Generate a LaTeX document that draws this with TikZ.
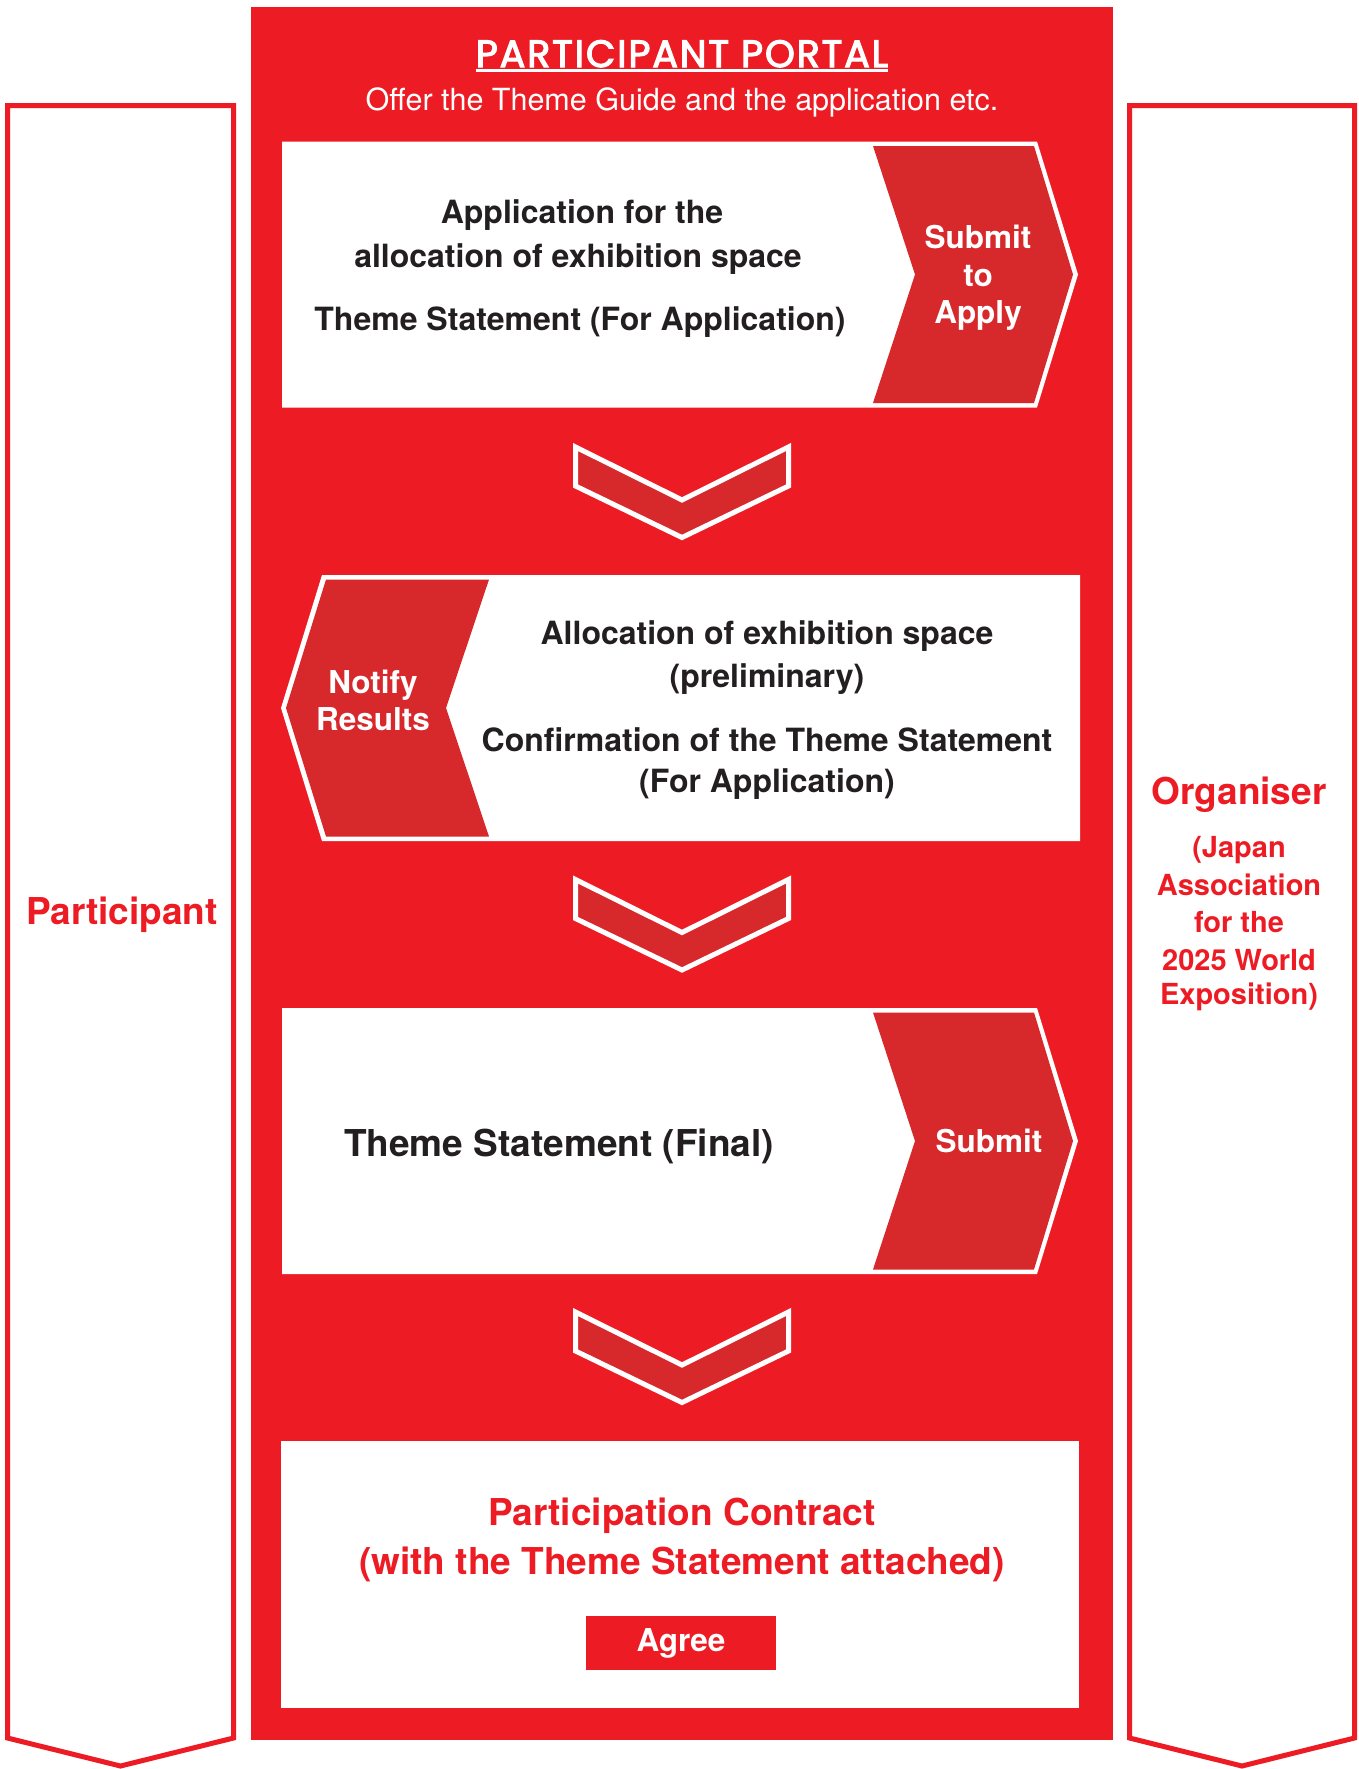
\documentclass[tikz,border=0pt]{standalone}
\usepackage{fontspec}
\setmainfont{TeX Gyre Heros}
\newfontfamily\titleFont[FakeBold=3, LetterSpace=5]{Poppins}
\usepackage{tikz}
\usetikzlibrary{positioning}
\tikzstyle{board} = [x = 1pt, y = -1pt]
\definecolor{portalRed}{HTML}{ED1C24}
\definecolor{chevronRed}{HTML}{D7282B}
\definecolor{bodyText}{HTML}{231F20}
\tikzstyle{bannerStyle} = [draw=portalRed, fill=white, line width=5pt]
\tikzstyle{arrowStyle} = [fill=chevronRed, draw=white, line width=5pt, line join=miter]
\tikzstyle{lineText} = [anchor=base, inner sep=0pt]
\tikzstyle{boxText} = [lineText, text=bodyText, font=\bfseries\fontsize{32}{37}\selectfont]
\tikzstyle{tagText} = [lineText, text=white, font=\bfseries\fontsize{31.5}{37}\selectfont]
\tikzstyle{sideText} = [lineText, text=portalRed, font=\bfseries\fontsize{29}{36}\selectfont]
\tikzstyle{bigText} = [lineText, font=\bfseries\fontsize{37}{44}\selectfont]
\newcommand{\rightStep}[1]{
  \fill [white] (282,#1) -- (1037,#1) -- (1078,#1+133) -- (1037,#1+266) -- (282,#1+266) -- cycle;
  \fill [chevronRed] (873,#1+4.5) -- (1034,#1+4.5) -- (1073,#1+133) -- (1034,#1+261.5) -- (873,#1+261.5) -- (915,#1+133) -- cycle;
}
\newcommand{\leftStep}[1]{
  \fill [white] (322,#1) -- (1080,#1) -- (1080,#1+266) -- (322,#1+266) -- (281,#1+133) -- cycle;
  \fill [chevronRed] (326,#1+4.5) -- (489,#1+4.5) -- (446,#1+133) -- (489,#1+261.5) -- (326,#1+261.5) -- (286,#1+133) -- cycle;
}
\newcommand{\downChevron}[1]{
  \filldraw [arrowStyle] (575.5,#1+4) -- (682,#1+57) -- (788.5,#1+4) -- (788.5,#1+43) -- (682,#1+94.5) -- (575.5,#1+43) -- cycle;
}

\begin{document}
\begin{tikzpicture}[board]
\useasboundingbox (0,0) rectangle (1359,1769);
% side banners
\filldraw [bannerStyle] (7.5,105.5) -- (233.5,105.5) -- (233.5,1738) -- (120.5,1766) -- (7.5,1738) -- cycle;
\filldraw [bannerStyle] (1129.5,105.5) -- (1354.5,105.5) -- (1354.5,1738) -- (1242,1766) -- (1129.5,1738) -- cycle;
\node [bigText, text=portalRed] (participant) at (122,924) {Participant};
\node [bigText, text=portalRed] (organiser) at (1239,804) {Organiser};
\node [sideText] (japan) at (1239,857) {(Japan};
\node [sideText] (association) at (1239,895) {Association};
\node [sideText] (forThe) at (1239,932) {for the};
\node [sideText] (world) at (1239,970) {2025 World};
\node [sideText] (exposition) at (1239,1004) {Exposition)};
% portal
\fill [portalRed] (251,7) rectangle (1113,1740);
\node [lineText, text=white, font=\titleFont\fontsize{38}{44}\selectfont] (portal) at (682,67) {PARTICIPANT PORTAL};
\draw [white, line width=2.5pt] ([yshift=-3.7pt]portal.base west) -- ([yshift=-3.7pt]portal.base east);
\node [lineText, text=white, font=\fontsize{30.5}{36}\selectfont] (offer) at (682,110) {Offer the Theme Guide and the application etc.};
% steps
\rightStep{141.5}
\node [boxText] (apply1) at (582,223) {Application for the};
\node [boxText] (apply2) at (578,267) {allocation of exhibition space};
\node [boxText] (apply3) at (580,330) {Theme Statement (For Application)};
\node [tagText] (submit1) at (978,248) {Submit};
\node [tagText] (submit2) at (978,286) {to};
\node [tagText] (submit3) at (978,323) {Apply};
\leftStep{575}
\node [boxText] (alloc1) at (767,644) {Allocation of exhibition space};
\node [boxText] (alloc2) at (767,687) {(preliminary)};
\node [boxText] (alloc3) at (767,751) {Confirmation of the Theme Statement};
\node [boxText] (alloc4) at (767,792) {(For Application)};
\node [tagText] (notify1) at (373,693) {Notify};
\node [tagText] (notify2) at (373,730) {Results};
\rightStep{1008}
\node [bigText, text=bodyText] (final) at (559,1156) {Theme Statement (Final)};
\node [tagText] (submit) at (989,1152) {Submit};
\fill [white] (281,1441) rectangle (1079,1708);
\node [bigText, text=portalRed] (contract1) at (682,1525) {Participation Contract};
\node [bigText, text=portalRed] (contract2) at (682,1574) {(with the Theme Statement attached)};
\fill [portalRed] (586,1616) rectangle (776,1670);
\node [tagText, anchor=center] (agree) at (681,1643) {Agree};
\foreach \top in {443,875.5,1308} {
  \downChevron{\top}
}
\end{tikzpicture}
\end{document}
